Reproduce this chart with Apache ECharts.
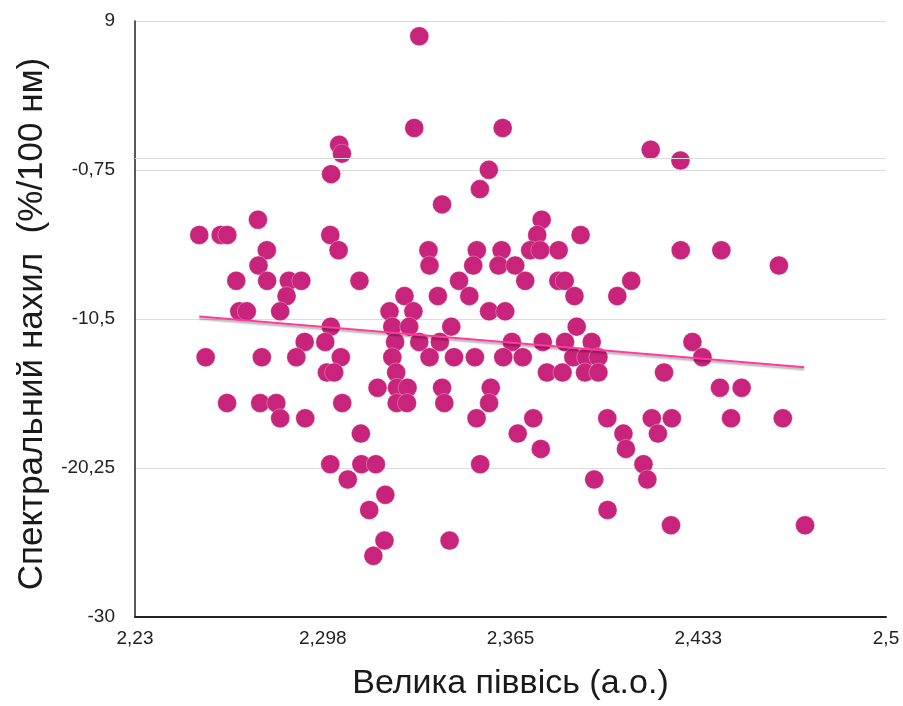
<!DOCTYPE html>
<html>
<head>
<meta charset="utf-8">
<style>
  html, body { margin: 0; padding: 0; background: #ffffff; overflow: hidden; }
  #chart { width: 903px; height: 706px; }
</style>
<script src="https://cdn.jsdelivr.net/npm/echarts@6/dist/echarts.min.js"></script>
</head>
<body>
<div id="chart"></div>
<script>
// ---- Data ----
// Semi-major axis (a.u.), grouped by rows of equal spectral slope
const semiMajorAxis = [
  2.3322,
  2.3304, 2.3622,
  2.3034,
  2.3044,
  2.4154,
  2.4261,
  2.3005,
  2.3572,
  2.3540,
  2.3404,
  2.2742, 2.3762,
  2.2531, 2.2608, 2.2632, 2.3002, 2.3746, 2.3902,
  2.2774, 2.3032, 2.3355, 2.3529, 2.3618, 2.3721, 2.3757, 2.3823, 2.4262, 2.4408,
  2.2744, 2.3359, 2.3516, 2.3607, 2.3667, 2.4615,
  2.2664, 2.2775, 2.2853, 2.2898, 2.3107, 2.3465, 2.3703, 2.3822, 2.3845, 2.4084,
  2.2845, 2.3269, 2.3389, 2.3502, 2.3880, 2.4034,
  2.2675, 2.2702, 2.2822, 2.3215, 2.3301, 2.3573, 2.3631,
  2.3004, 2.3225, 2.3286, 2.3437, 2.3888,
  2.2910, 2.2984, 2.3235, 2.3322, 2.3396, 2.3655, 2.3766, 2.3846, 2.3942, 2.4304,
  2.2554, 2.2756, 2.2880, 2.3040, 2.3225, 2.3359, 2.3447, 2.3522, 2.3624, 2.3694, 2.3876, 2.3922, 2.3966, 2.4340,
  2.2990, 2.3016, 2.3239, 2.3781, 2.3837, 2.3918, 2.3966, 2.4202,
  2.3172, 2.3242, 2.3280, 2.3404, 2.3579, 2.4403, 2.4481,
  2.2631, 2.2750, 2.2808, 2.3045, 2.3241, 2.3278, 2.3412, 2.3573,
  2.2822, 2.2912, 2.3528, 2.3732, 2.3998, 2.4158, 2.4230, 2.4443, 2.4629,
  2.3112, 2.3676, 2.4056, 2.4180,
  2.3759, 2.4065,
  2.3002, 2.3114, 2.3166, 2.3541, 2.4128,
  2.3065, 2.3951, 2.4142,
  2.3200,
  2.3142, 2.3999,
  2.4227, 2.4709,
  2.3197, 2.3431,
  2.3157
];
// Spectral slope (%/100 nm), same order
const spectralSlope = [
  8,
  2, 2,
  0.9,
  0.32,
  0.58,
  -0.13,
  -1.02,
  -0.74,
  -2,
  -3,
  -4, -4,
  -5, -5, -5, -5, -5, -5,
  -6, -6, -6, -6, -6, -6, -6, -6, -6, -6,
  -7, -7, -7, -7, -7, -7,
  -8, -8, -8, -8, -8, -8, -8, -8, -8, -8,
  -9, -9, -9, -9, -9, -9,
  -10, -10, -10, -10, -10, -10, -10,
  -11, -11, -11, -11, -11,
  -12, -12, -12, -12, -12, -12, -12, -12, -12, -12,
  -13, -13, -13, -13, -13, -13, -13, -13, -13, -13, -13, -13, -13, -13,
  -14, -14, -14, -14, -14, -14, -14, -14,
  -15, -15, -15, -15, -15, -15, -15,
  -16, -16, -16, -16, -16, -16, -16, -16,
  -17, -17, -17, -17, -17, -17, -17, -17, -17,
  -18, -18, -18, -18,
  -19, -19,
  -20, -20, -20, -20, -20,
  -21, -21, -21,
  -22,
  -23, -23,
  -24, -24,
  -25, -25,
  -26
];
// Trend line end points
const trendX = [2.2531, 2.4706];
const trendY = [-10.33, -13.66];

// Axes
const xMin = 2.23, xMax = 2.5, xStep = 0.0675;
const yMin = -30, yMax = 9, yStep = 9.75;
const xTickLabels = ['2,23', '2,298', '2,365', '2,433', '2,5'];
const yTickLabels = ['-30', '-20,25', '-10,5', '-0,75', '9'];
const xTitle = 'Велика піввісь (а.о.)';
const yTitle = 'Спектральний нахил  (%/100 нм)';

// Values are shifted so that each axis min is 0 (a multiple of its interval)
const pts = semiMajorAxis.map((x, i) => [x - xMin, spectralSlope[i] - yMin]);
const trend = trendX.map((x, i) => [x - xMin, trendY[i] - yMin]);

const FONT = "'Liberation Sans', Arial, Helvetica, sans-serif";
const chart = echarts.init(document.getElementById('chart'), null, { renderer: 'canvas', width: 903, height: 706 });
chart.setOption({
  animation: false,
  backgroundColor: '#ffffff',
  grid: { left: 135, width: 751, top: 21, height: 602, containLabel: false },
  xAxis: {
    type: 'value',
    min: 0, max: xMax - xMin, interval: xStep,
    name: xTitle, nameLocation: 'middle', nameGap: 50,
    nameTextStyle: { fontFamily: FONT, fontSize: 34, color: '#1a1a1a' },
    axisLine: { show: true, lineStyle: { color: '#222', width: 2 } },
    axisTick: { show: false },
    splitLine: { show: false },
    axisLabel: {
      fontFamily: FONT, fontSize: 19, color: '#222', margin: 12,
      formatter: v => xTickLabels[Math.round(v / xStep)]
    }
  },
  yAxis: {
    type: 'value',
    min: 0, max: yMax - yMin, interval: yStep,
    name: yTitle, nameLocation: 'middle', nameGap: 85, nameRotate: 90,
    nameTextStyle: { fontFamily: FONT, fontSize: 35, color: '#1a1a1a', padding: [0, 10, 0, 0] },
    axisLine: { show: true, onZero: false, lineStyle: { color: '#222', width: 1.5 } },
    axisTick: { show: false },
    splitLine: { show: true, lineStyle: { color: '#dcdcdc', width: 1 } },
    axisLabel: {
      fontFamily: FONT, fontSize: 19, color: '#222', margin: 20,
      formatter: v => yTickLabels[Math.round(v / yStep)]
    }
  },
  series: [
    {
      type: 'scatter',
      data: pts,
      symbol: 'circle',
      symbolSize: 19,
      itemStyle: { color: '#c8247b', opacity: 1, borderColor: 'rgba(255,255,255,0.5)', borderWidth: 0.6 },
      markLine: {
        silent: true, symbol: 'none', label: { show: false },
        lineStyle: { color: '#dcdcdc', width: 1, type: 'solid' },
        data: [{ yAxis: 0 - yMin }]
      },
      z: 2
    },
    {
      type: 'line',
      data: trend,
      symbol: 'none',
      lineStyle: {
        color: '#ff3a9c', width: 2,
        shadowColor: 'rgba(0,0,0,0.35)', shadowBlur: 2, shadowOffsetY: 2
      },
      z: 3
    }
  ]
});
</script>
</body>
</html>
